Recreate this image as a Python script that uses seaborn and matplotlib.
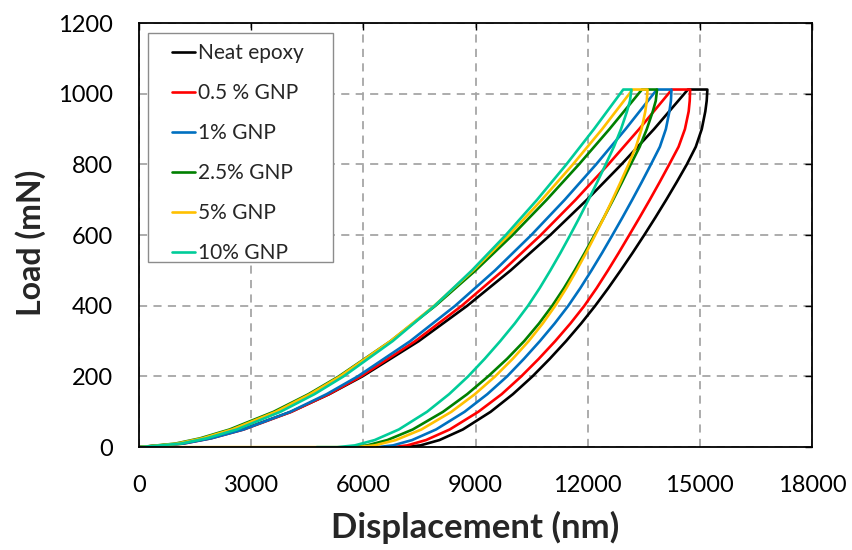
import matplotlib
matplotlib.use("Agg")
import matplotlib.pyplot as plt
from matplotlib.patches import Rectangle
import seaborn as sns
import pandas as pd

samples = ["Neat epoxy", "0.5 % GNP", "1% GNP", "2.5% GNP", "5% GNP", "10% GNP"]
colors = ["#000000", "#FF0000", "#0070C0", "#008000", "#FFC000", "#00CC99"]

# load levels (mN) for loading branch
load_levels = [0, 10, 25, 50, 100, 150, 200, 300, 400, 500, 600, 700, 800, 900, 1012]
# displacement (nm) on loading branch
load_neat = [0, 1130, 1882, 2765, 4063, 5087, 5971, 7480, 8777, 9936, 10996, 11978, 12901, 13773, 14680]
load_05 = [0, 1175, 1928, 2803, 4077, 5079, 5932, 7386, 8630, 9734, 10743, 11676, 12550, 13375, 14250]
load_1 = [0, 1188, 1934, 2796, 4043, 5018, 5846, 7253, 8454, 9519, 10489, 11385, 12223, 13012, 13850]
load_25 = [0, 969, 1633, 2422, 3597, 4533, 5340, 6726, 7926, 9001, 9987, 10902, 11764, 12581, 13450]
load_5 = [0, 1017, 1692, 2485, 3654, 4574, 5370, 6726, 7894, 8935, 9889, 10772, 11602, 12386, 13200]
load_10 = [0, 1111, 1808, 2615, 3780, 4692, 5466, 6782, 7905, 8901, 9807, 10645, 11428, 12167, 12950]

# load levels (mN) for hold end + unloading branch
unload_levels = [1012, 980, 950, 900, 850, 800, 750, 700, 650, 600, 550, 500, 450, 400,
                 350, 300, 250, 200, 150, 100, 50, 20, 5, 0]
unload_neat = [15200, 15182, 15145, 15050, 14890, 14650, 14380, 14100, 13810, 13510, 13201, 12880,
               12549, 12200, 11824, 11420, 10985, 10520, 10000, 9403, 8660, 8033, 7528, 7100]
unload_05 = [14740, 14728, 14700, 14600, 14430, 14180, 13924, 13660, 13388, 13110, 12830, 12540,
             12238, 11910, 11537, 11130, 10691, 10220, 9700, 9073, 8309, 7674, 7174, 6770]
unload_1 = [14240, 14225, 14185, 14090, 13930, 13690, 13444, 13190, 12929, 12660, 12386, 12100,
            11802, 11480, 11116, 10720, 10295, 9841, 9315, 8706, 7943, 7302, 6793, 6370]
unload_25 = [13854, 13820, 13740, 13580, 13390, 13150, 12919, 12680, 12434, 12180, 11921, 11650,
             11364, 11050, 10698, 10300, 9844, 9334, 8777, 8130, 7320, 6640, 6099, 5650]
unload_5 = [13600, 13580, 13540, 13440, 13290, 13090, 12879, 12660, 12435, 12200, 11957, 11700,
            11428, 11130, 10796, 10420, 9994, 9521, 8983, 8353, 7552, 6865, 6301, 5800]
unload_10 = [13170, 13130, 13050, 12890, 12700, 12480, 12254, 12020, 11780, 11530, 11272, 11000,
             10715, 10403, 10049, 9660, 9245, 8799, 8293, 7701, 6948, 6301, 5771, 5300]

# trailing zero-load readings after full unload
tail_disp = {"5% GNP": [60], "10% GNP": [4750]}

loads = [load_neat, load_05, load_1, load_25, load_5, load_10]
unloads = [unload_neat, unload_05, unload_1, unload_25, unload_5, unload_10]

rows = []
for s, ld, ul in zip(samples, loads, unloads):
    h = ld + ul + tail_disp.get(s, [])
    p = load_levels + unload_levels + [0] * len(tail_disp.get(s, []))
    for hh, pp in zip(h, p):
        rows.append({"Displacement": hh, "Load": pp, "Sample": s})
df = pd.DataFrame(rows)

sns.set_theme(style="white")
plt.rcParams["font.family"] = ["Lato", "DejaVu Sans"]

fig, ax = plt.subplots(figsize=(8.53, 5.5), dpi=100)
fig.subplots_adjust(left=0.163, right=0.952, bottom=0.187, top=0.958)

sns.lineplot(data=df, x="Displacement", y="Load", hue="Sample", hue_order=samples,
             palette=colors, sort=False, estimator=None, linewidth=1.9, ax=ax)

ax.set_xlim(0, 18000)
ax.set_ylim(0, 1200)
ax.set_xticks(range(0, 18001, 3000))
ax.set_yticks(range(0, 1201, 200))
ax.grid(True, color="#A6A6A6", linestyle=(0, (4.5, 3.5)), linewidth=1.3)
for sp in ax.spines.values():
    sp.set_color("black")
    sp.set_linewidth(1.3)
ax.tick_params(direction="in", length=5, width=1, top=True, right=True,
               labelsize=17, colors="black")
ax.tick_params(axis="y", pad=19)
ax.tick_params(axis="x", pad=20)

ax.set_xlabel("Displacement (nm)", fontsize=25, fontweight="bold")
ax.set_ylabel("Load (mN)", fontsize=23, fontweight="bold")
ax.xaxis.set_label_coords(0.5, -0.189)
ax.xaxis.label.set_verticalalignment("center")
ax.yaxis.set_label_coords(-0.1605, 0.481)
ax.yaxis.label.set_verticalalignment("center")

handles, labels = ax.get_legend_handles_labels()
leg = ax.legend(handles, labels, loc="upper left", bbox_to_anchor=(0.0486, 0.9535),
                borderaxespad=0, fontsize=15, handlelength=1.1, handletextpad=0.15,
                labelspacing=0.96, borderpad=0, frameon=False)
ax.add_patch(Rectangle((0.01337, 0.437), 0.2749, 0.540, transform=ax.transAxes,
                       fill=True, facecolor="white", edgecolor="#8C8C8C",
                       linewidth=1.0, zorder=4))
leg.set_zorder(5)

fig.savefig("out.png", dpi=100)
